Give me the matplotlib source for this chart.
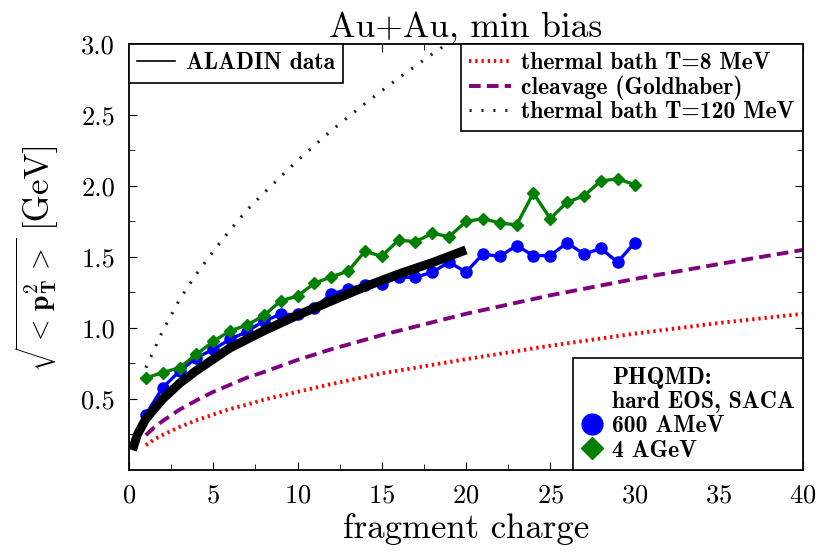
import matplotlib
matplotlib.use("Agg")
import matplotlib.pyplot as plt
from matplotlib.lines import Line2D

plt.rcParams['font.family'] = ['cmr10', 'DejaVu Serif']
plt.rcParams['mathtext.fontset'] = 'cm'
plt.rcParams['axes.formatter.use_mathtext'] = True

# PHQMD data
z_data = list(range(1, 31))
blue_600 = [0.39, 0.58, 0.695, 0.79, 0.85, 0.92, 0.975, 1.05, 1.095, 1.095,
            1.143, 1.238, 1.274, 1.305, 1.31, 1.357, 1.357, 1.393, 1.464, 1.393,
            1.52, 1.505, 1.58, 1.51, 1.51, 1.60, 1.52, 1.56, 1.464, 1.60]
green_4 = [0.648, 0.686, 0.72, 0.814, 0.905, 0.98, 1.02, 1.088, 1.19, 1.226,
           1.314, 1.36, 1.40, 1.54, 1.505, 1.62, 1.607, 1.667, 1.643, 1.75,
           1.77, 1.74, 1.726, 1.95, 1.77, 1.886, 1.93, 2.036, 2.05, 2.01]

# ALADIN data curve
z_aladin = [0.2, 0.5, 1, 2, 3, 4, 5, 6, 8, 10, 12, 14, 16, 18, 20]
v_aladin = [0.14, 0.25, 0.36, 0.50, 0.61, 0.70, 0.78, 0.86, 0.98, 1.09, 1.19, 1.29, 1.38, 1.46, 1.55]

# model curves
z_model = [1, 1.5, 2, 3, 4, 5, 6, 7, 8, 10, 12, 15, 18, 20, 25, 30, 35, 40]
v_t8 = [0.175, 0.215, 0.247, 0.303, 0.35, 0.39, 0.43, 0.46, 0.495, 0.55, 0.605,
        0.68, 0.74, 0.78, 0.875, 0.96, 1.035, 1.10]
v_cleav = [0.245, 0.30, 0.345, 0.425, 0.49, 0.55, 0.60, 0.65, 0.69, 0.775, 0.85,
           0.95, 1.04, 1.10, 1.23, 1.345, 1.45, 1.55]
z_t120 = [1, 1.5, 2, 3, 4, 5, 6, 7, 8, 10, 12, 14, 16, 18, 19, 20]
v_t120 = [0.72, 0.85, 0.98, 1.20, 1.38, 1.54, 1.69, 1.83, 1.95, 2.18, 2.39, 2.58,
          2.76, 2.93, 3.01, 3.09]

fig = plt.figure(figsize=(8.19, 5.52), dpi=100)
ax = fig.add_axes([0.1575, 0.1486, 0.823, 0.7717])

ax.plot(z_t120, v_t120, color='#222222', lw=2.2, ls=(0, (0.7, 3.2)), dash_capstyle='butt')
ax.plot(z_model, v_cleav, color='#800080', lw=2.8, ls=(0, (3.0, 1.6)))
ax.plot(z_model, v_t8, color='#ff0000', lw=2.8, ls=(0, (0.6, 1.0)))
ax.plot(z_data, blue_600, color='#0000ff', lw=2.4, marker='o', ms=8, zorder=4)
ax.plot(z_data, green_4, color='#007f00', lw=2.4, marker='D', ms=6.5, zorder=4)
ax.plot(z_aladin, v_aladin, color='black', lw=6.5, solid_capstyle='butt', zorder=5)

ax.set_xlim(0, 40)
ax.set_ylim(0, 3.0)
ax.set_xticks([0, 5, 10, 15, 20, 25, 30, 35, 40])
ax.set_xticks([2.5 + 5 * i for i in range(8)], minor=True)
ax.set_yticks([0.5, 1.0, 1.5, 2.0, 2.5, 3.0])
ax.set_yticks([0.25 + 0.5 * i for i in range(6)], minor=True)
ax.set_yticklabels(['0.5', '1.0', '1.5', '2.0', '2.5', '3.0'])
ax.tick_params(which='both', direction='in', top=True, right=True, labelsize=19, pad=10)
ax.tick_params(which='major', length=6)
ax.tick_params(which='minor', length=4)
for s in ax.spines.values():
    s.set_linewidth(1.3)

ax.set_title('Au+Au, min bias', fontsize=25.5, pad=4)
ax.set_xlabel('fragment charge', fontsize=25, labelpad=4)
ax.text(-0.138, 0.387, r'$\sqrt{{<}\,\mathbf{p}_\mathbf{T}^\mathbf{2}\,{>}}$', transform=ax.transAxes,
        rotation=90, ha='center', va='center', fontsize=20)
ax.text(-0.137, 0.676, '[GeV]', transform=ax.transAxes,
        rotation=90, ha='center', va='center', fontsize=25)

bold = {'family': 'cmb10', 'size': 17}

leg1 = ax.legend([Line2D([], [], color='black', lw=1.2)], ['ALADIN data'],
                 loc='upper left', bbox_to_anchor=(0, 1), borderaxespad=0,
                 fancybox=False, edgecolor='black', framealpha=1, prop=bold,
                 handlelength=1.6, handletextpad=0.45, borderpad=0.35)
leg1.get_frame().set_linewidth(1.2)
ax.add_artist(leg1)

h2 = [Line2D([], [], color='#ff0000', lw=2.8, ls=(0, (0.6, 1.0))),
      Line2D([], [], color='#800080', lw=2.8, ls=(0, (3.0, 1.6))),
      Line2D([], [], color='#222222', lw=2.2, ls=(0, (0.7, 3.2)))]
leg2 = ax.legend(h2, ['thermal bath T=8 MeV', 'cleavage (Goldhaber)', 'thermal bath T=120 MeV'],
                 loc='upper right', bbox_to_anchor=(1, 1), borderaxespad=0,
                 fancybox=False, edgecolor='black', framealpha=1, prop=bold,
                 handlelength=1.75, handletextpad=0.45, labelspacing=0.05, borderpad=0.35)
leg2.get_frame().set_linewidth(1.2)
ax.add_artist(leg2)

h3 = [Line2D([], [], ls='none'), Line2D([], [], ls='none'),
      Line2D([], [], ls='none', marker='o', color='#0000ff', ms=15),
      Line2D([], [], ls='none', marker='D', color='#007f00', ms=11)]
leg3 = ax.legend(h3, ['PHQMD:', 'hard EOS, SACA', '600 AMeV', '4 AGeV'],
                 loc='lower right', bbox_to_anchor=(1, 0), borderaxespad=0,
                 fancybox=False, edgecolor='black', framealpha=1, prop=bold,
                 handlelength=0.9, handletextpad=0.4, labelspacing=0.1, borderpad=0.35)
leg3.get_frame().set_linewidth(1.2)

fig.savefig('out.png', dpi=100)
